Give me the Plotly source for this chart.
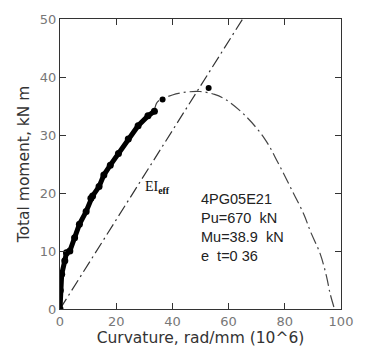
import plotly.graph_objects as go

# Experimental moment-curvature points
exp_curv = [0, 0.1, 0.6, 1.7, 2.3, 3.5, 5.2, 6.9, 9.3, 11.0, 11.6, 13.9, 15.6, 17.9, 20.8, 24.3, 27.8, 31.3, 33.6]
exp_mom = [0, 3.2, 6.0, 8.3, 9.7, 10.0, 12.3, 14.6, 16.8, 19.1, 19.5, 21.1, 23.1, 24.8, 26.8, 29.3, 31.6, 33.3, 34.1]

# Isolated points
pt_curv = [36.5, 52.9]
pt_mom = [36.1, 38.1]

# Fitted (analytical) curve
fit_curv = [33.6, 34.7, 40.0, 45.0, 49.8, 55.0, 59.0, 66.0, 72.9, 77.5, 82.2, 86.8, 89.1, 92.6, 94.9, 96.1, 97.5]
fit_mom = [34.1, 35.7, 36.9, 37.4, 37.5, 37.0, 36.1, 33.3, 29.3, 25.3, 20.8, 16.3, 13.4, 9.5, 5.5, 2.7, 0.3]

# Effective stiffness line
ei_curv = [0, 65]
ei_mom = [0, 50]

x_ticks = [0, 20, 40, 60, 80, 100]
y_ticks = [0, 10, 20, 30, 40, 50]

fig = go.Figure()
fig.add_trace(go.Scatter(x=ei_curv, y=ei_mom, mode="lines",
                         line=dict(color="#333", width=1.2, dash="12px,4px,2px,4px"), hoverinfo="skip"))
fig.add_trace(go.Scatter(x=fit_curv, y=fit_mom, mode="lines", line_shape="spline",
                         line=dict(color="#444", width=1.2, dash="12px,4px,2px,4px"), hoverinfo="skip"))
fig.add_trace(go.Scatter(x=exp_curv, y=exp_mom, mode="lines+markers",
                         line=dict(color="black", width=5),
                         marker=dict(color="black", size=7)))
fig.add_trace(go.Scatter(x=pt_curv, y=pt_mom, mode="markers",
                         marker=dict(color="black", size=6)))

fig.add_annotation(x=29.5, y=21, text="EI<sub><b>eff</b></sub>", showarrow=False,
                   xanchor="left", yanchor="middle",
                   font=dict(family="Liberation Serif", size=14, color="#111"))
fig.add_annotation(x=49.5, y=14, xanchor="left", yanchor="middle", align="left", showarrow=False,
                   text="4PG05E21<br>Pu=670  kN<br>Mu=38.9  kN<br>e  t=0 36",
                   font=dict(family="Liberation Sans", size=14.5, color="#222"))

axis_common = dict(showline=True, linecolor="#333", linewidth=1.2, mirror="ticks",
                   ticks="inside", ticklen=6, tickcolor="#333", showgrid=False, zeroline=False,
                   tickfont=dict(family="DejaVu Sans", size=13, color="#777"))
fig.update_xaxes(range=[0, 100], tickvals=x_ticks,
                 title=dict(text="Curvature, rad/mm (10^6)", standoff=4,
                            font=dict(family="DejaVu Sans", size=15.5, color="#333")),
                 **axis_common)
fig.update_yaxes(range=[0, 50], tickvals=y_ticks,
                 title=dict(text="Total moment, kN m", standoff=6,
                            font=dict(family="DejaVu Sans", size=15.5, color="#333")),
                 **axis_common)

fig.update_layout(width=365, height=359, margin=dict(l=60, r=17, t=15, b=50),
                  plot_bgcolor="white", paper_bgcolor="white", showlegend=False)
fig.write_html("out.html")
